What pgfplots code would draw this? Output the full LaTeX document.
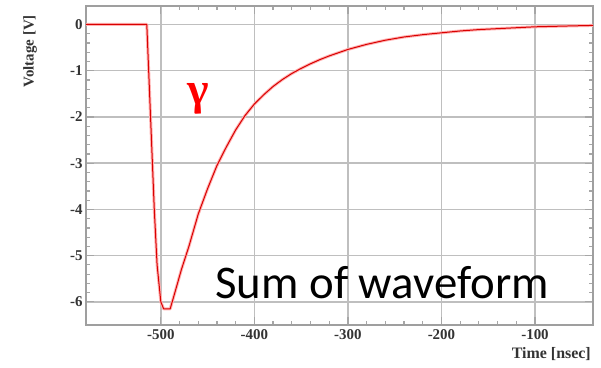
\documentclass[border=0pt]{standalone}
\usepackage{pgfplots}
\pgfplotsset{compat=1.18}
\usepackage{fontspec}
\setmainfont{Liberation Serif}
\newfontfamily\calibri{Carlito}
\pgfplotstableread{
t v
-580 0.0
-540 0.0
-520 0.0
-515 0.0
-513 -1.0
-510 -2.5
-507 -4.0
-504 -5.2
-500 -6.0
-497 -6.15
-490 -6.15
-485 -5.8
-478 -5.3
-470 -4.8
-460 -4.1
-450 -3.55
-440 -3.05
-430 -2.65
-420 -2.28
-410 -1.97
-400 -1.72
-390 -1.52
-380 -1.34
-370 -1.19
-360 -1.06
-350 -0.95
-340 -0.85
-330 -0.76
-320 -0.68
-300 -0.54
-280 -0.43
-260 -0.34
-240 -0.27
-220 -0.22
-200 -0.18
-180 -0.14
-160 -0.11
-140 -0.09
-120 -0.07
-100 -0.05
-80 -0.04
-60 -0.03
-38 -0.02
}\wave
\begin{document}
\begin{tikzpicture}
\begin{axis}[
  name=ax,
  scale only axis, width=507bp, height=319bp,
  xmin=-580, xmax=-38, ymin=-6.5, ymax=0.4,
  xtick={-500,-400,-300,-200,-100},
  ytick={-6,-5,-4,-3,-2,-1,0},
  minor x tick num=4, minor y tick num=4,
  tick align=inside, tick pos=both,
  major tick length=8bp, minor tick length=4bp,
  grid=major,
  major grid style={gray!50, line width=1.4pt},
  axis line style={gray!75, line width=1.8pt},
  tick style={gray!70, line width=1.2pt},
  minor tick style={gray!70, line width=1.2pt},
  xticklabel style={font=\bfseries\fontsize{15}{16}\selectfont, text=black!80, yshift=-1bp},
  yticklabel style={font=\bfseries\fontsize{15}{16}\selectfont, text=black!80},
  /pgf/number format/assume math mode=true,
  clip=true,
]
\addplot[red!30, line width=3pt, line join=round] table[x=t, y=v] {\wave};
\addplot[red!85!black, line width=1pt, line join=round] table[x=t, y=v] {\wave};
\node[anchor=base west, inner sep=0, font=\calibri\fontsize{47}{50}\selectfont] at (axis cs:-442,-5.92) {Sum of waveform};
\node[inner sep=0, text=red, font=\bfseries\fontsize{46}{46}\selectfont] at (axis cs:-460,-1.6) {γ};
\end{axis}
\node[rotate=90, anchor=south east, inner sep=0, font=\bfseries\fontsize{15}{16}\selectfont, text=black!80] at ([xshift=-49bp, yshift=-9bp]ax.north west) {Voltage [V]};
\node[anchor=north east, inner sep=0, font=\bfseries\fontsize{16}{17}\selectfont, text=black!80] at ([xshift=-2bp, yshift=-22bp]ax.south east) {Time [nsec]};
\path ([xshift=-86bp, yshift=-43bp]ax.south west) rectangle ([xshift=8bp, yshift=6bp]ax.north east);
\end{tikzpicture}
\end{document}
